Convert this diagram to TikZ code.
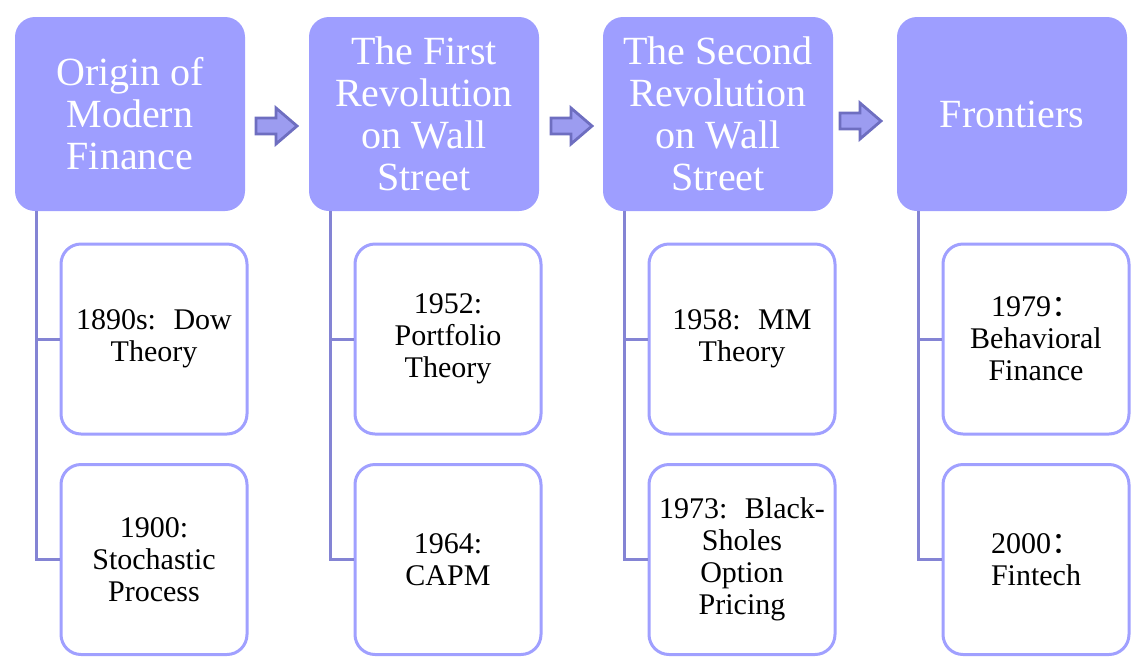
\documentclass[tikz,border=0pt]{standalone}
\usepackage{fontspec}
\setmainfont{Liberation Serif}
\newfontfamily\cjk{Noto Sans CJK SC}
\definecolor{headfill}{HTML}{9E9EFF}
\definecolor{itemline}{HTML}{A0A0FF}
\definecolor{spinecol}{HTML}{8484D4}
\definecolor{arrowfill}{HTML}{9C9CF0}
\definecolor{arrowline}{HTML}{6E6EC0}
\tikzset{
  head/.style={rectangle, rounded corners=10pt, fill=headfill, text=white,
    minimum width=115pt, minimum height=97pt, align=center,
    font=\fontsize{20}{21}\selectfont},
  item/.style={rectangle, rounded corners=10pt, draw=itemline, line width=1.5pt,
    fill=white, minimum width=93pt, minimum height=95pt, align=center,
    font=\fontsize{15}{16}\selectfont},
  spine/.style={draw=spinecol, line width=1.5pt},
  blockarrow/.style={fill=arrowfill, draw=arrowline, line width=1.4pt, line join=miter}
}
\begin{document}
\begin{tikzpicture}[x=0.5pt,y=-0.5pt]
\useasboundingbox (0,0) rectangle (1148,671);
% header boxes
\node[head] (h1) at (130,114) {Origin of\\Modern\\Finance};
\node[head] (h2) at (424,114) {The First\\Revolution\\on Wall\\Street};
\node[head] (h3) at (718,114) {The Second\\Revolution\\on Wall\\Street};
\node[head] (h4) at (1012,114) {Frontiers};
% arrows between headers
\draw[blockarrow] (256,118) -- (276,118) -- (276,108) -- (297,126) -- (276,144) -- (276,134) -- (256,134) -- cycle;
\draw[blockarrow] (551,118) -- (571,118) -- (571,108) -- (592,126) -- (571,144) -- (571,134) -- (551,134) -- cycle;
\draw[blockarrow] (840,113) -- (860,113) -- (860,103) -- (881,121) -- (860,139) -- (860,129) -- (840,129) -- cycle;
% items
\node[item] (c11) at (154,339) {1890s:~ Dow\\Theory};
\node[item] (c12) at (154,559.5) {1900:\\Stochastic\\Process};
\node[item] (c21) at (448,339) {1952:\\Portfolio\\Theory};
\node[item] (c22) at (448,559.5) {1964:\\CAPM};
\node[item] (c31) at (742,339) {1958:~ MM\\Theory};
\node[item] (c32) at (742,559.5) {1973:~ Black-\\Sholes\\Option\\Pricing};
\node[item] (c41) at (1036,339) {1979{\cjk ：}\\Behavioral\\Finance};
\node[item] (c42) at (1036,559.5) {2000{\cjk ：}\\Fintech};
% spines
\coordinate (s1) at (36,211);
\coordinate (s2) at (330,211);
\coordinate (s3) at (624,211);
\coordinate (s4) at (918,211);
\draw[spine] (s1) |- (c12.west);
\draw[spine] (c11.west) -- (c11.west -| s1);
\draw[spine] (s2) |- (c22.west);
\draw[spine] (c21.west) -- (c21.west -| s2);
\draw[spine] (s3) |- (c32.west);
\draw[spine] (c31.west) -- (c31.west -| s3);
\draw[spine] (s4) |- (c42.west);
\draw[spine] (c41.west) -- (c41.west -| s4);
\end{tikzpicture}
\end{document}
